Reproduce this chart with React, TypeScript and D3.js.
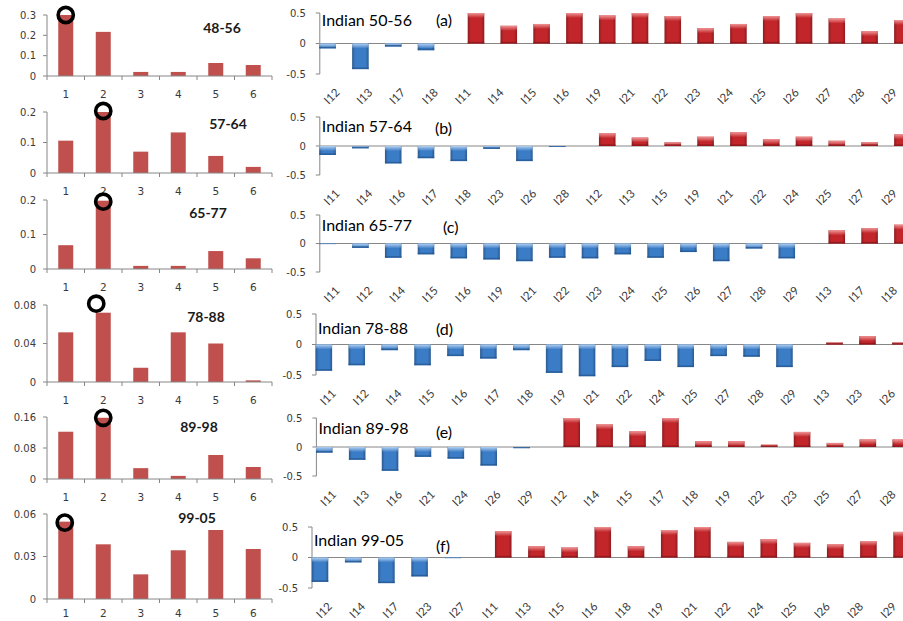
import React from "react";
import * as d3 from "d3";

const W = 903;
const H = 621;

// ---- Left column: class frequency per period ----
const classLabels = ["1", "2", "3", "4", "5", "6"];
const periodNames = ["48-56", "57-64", "65-77", "78-88", "89-98", "99-05"];

const freq4856 = [0.3, 0.217, 0.02, 0.02, 0.064, 0.054];
const freq5764 = [0.106, 0.2, 0.07, 0.133, 0.056, 0.02];
const freq6577 = [0.069, 0.198, 0.009, 0.009, 0.052, 0.031];
const freq7888 = [0.0516, 0.072, 0.0148, 0.0516, 0.04, 0.0017];
const freq8998 = [0.122, 0.158, 0.028, 0.008, 0.062, 0.031];
const freq9905 = [0.0546, 0.0386, 0.0174, 0.0344, 0.0487, 0.0353];
const freqSeries = [freq4856, freq5764, freq6577, freq7888, freq8998, freq9905];

const ticks4856 = [0, 0.1, 0.2, 0.3];
const ticks5764 = [0, 0.1, 0.2];
const ticks6577 = [0, 0.1, 0.2];
const ticks7888 = [0, 0.04, 0.08];
const ticks8998 = [0, 0.08, 0.16];
const ticks9905 = [0, 0.03, 0.06];
const freqTicks = [ticks4856, ticks5764, ticks6577, ticks7888, ticks8998, ticks9905];

// class marked with a ring in each period
const peakClass = [0, 1, 1, 1, 1, 0];

// ---- Right column: index anomalies per period ----
const anomalyTitles = ["Indian 50-56", "Indian 57-64", "Indian 65-77", "Indian 78-88", "Indian 89-98", "Indian 99-05"];
const panelTags = ["(a)", "(b)", "(c)", "(d)", "(e)", "(f)"];

const catsA = ["I12", "I13", "I17", "I18", "I11", "I14", "I15", "I16", "I19", "I21", "I22", "I23", "I24", "I25", "I26", "I27", "I28", "I29"];
const valsA = [-0.08, -0.42, -0.05, -0.11, 0.5, 0.29, 0.32, 0.5, 0.46, 0.5, 0.45, 0.25, 0.32, 0.45, 0.5, 0.41, 0.2, 0.385];

const catsB = ["I11", "I14", "I16", "I17", "I18", "I23", "I26", "I28", "I12", "I13", "I15", "I19", "I21", "I22", "I24", "I25", "I27", "I29"];
const valsB = [-0.155, -0.04, -0.3, -0.21, -0.26, -0.05, -0.26, -0.015, 0.22, 0.145, 0.064, 0.16, 0.236, 0.12, 0.16, 0.09, 0.064, 0.2];

const catsC = ["I11", "I12", "I14", "I15", "I16", "I19", "I21", "I22", "I23", "I24", "I25", "I26", "I27", "I28", "I29", "I13", "I17", "I18"];
const valsC = [-0.01, -0.077, -0.25, -0.19, -0.26, -0.28, -0.31, -0.25, -0.26, -0.19, -0.25, -0.15, -0.31, -0.088, -0.26, 0.23, 0.27, 0.33];

const catsD = ["I11", "I12", "I14", "I15", "I16", "I17", "I18", "I19", "I21", "I22", "I24", "I25", "I27", "I28", "I29", "I13", "I23", "I26"];
const valsD = [-0.43, -0.34, -0.093, -0.34, -0.19, -0.23, -0.093, -0.465, -0.52, -0.37, -0.27, -0.37, -0.19, -0.2, -0.37, 0.033, 0.136, 0.033];

const catsE = ["I11", "I13", "I16", "I21", "I24", "I26", "I29", "I12", "I14", "I15", "I17", "I18", "I19", "I22", "I23", "I25", "I27", "I28"];
const valsE = [-0.097, -0.22, -0.41, -0.17, -0.2, -0.32, -0.02, 0.5, 0.39, 0.27, 0.5, 0.1, 0.1, 0.04, 0.26, 0.07, 0.13, 0.13];

const catsF = ["I12", "I14", "I17", "I23", "I27", "I11", "I13", "I15", "I16", "I18", "I19", "I21", "I22", "I24", "I25", "I26", "I28", "I29"];
const valsF = [-0.4, -0.08, -0.42, -0.31, -0.01, 0.43, 0.185, 0.164, 0.5, 0.185, 0.45, 0.5, 0.256, 0.3, 0.24, 0.22, 0.27, 0.42];

const anomalyCats = [catsA, catsB, catsC, catsD, catsE, catsF];
const anomalyVals = [valsA, valsB, valsC, valsD, valsE, valsF];
const anomalyTicks = [-0.5, 0, 0.5];

// ---- Layout ----
const freqFrames = [
  { y0: 76, yTop: 15, nameX: 222, nameY: 28, ringDx: 0, ringDy: 0 },
  { y0: 173, yTop: 112, nameX: 228, nameY: 124, ringDx: 0, ringDy: -1 },
  { y0: 269, yTop: 200, nameX: 208, nameY: 213, ringDx: 0, ringDy: 1 },
  { y0: 382, yTop: 305, nameX: 206, nameY: 317, ringDx: -7, ringDy: -9 },
  { y0: 479, yTop: 417, nameX: 199, nameY: 427, ringDx: 0, ringDy: 0 },
  { y0: 599, yTop: 514, nameX: 197, nameY: 518, ringDx: -1, ringDy: 1 },
];
const FREQ_X0 = 47;
const FREQ_X1 = 272;

const anomalyFrames = [
  { x0: 319.8, step: 32.8, yTop: 13, yBot: 74, titleY: 20, tagX: 436, tagY: 20 },
  { x0: 319.8, step: 32.8, yTop: 117, yBot: 175, titleY: 126, tagX: 435, tagY: 128 },
  { x0: 319.8, step: 32.8, yTop: 215, yBot: 272, titleY: 225, tagX: 443, tagY: 227 },
  { x0: 316, step: 32.9, yTop: 314, yBot: 375, titleY: 328, tagX: 436, tagY: 329 },
  { x0: 316.4, step: 32.9, yTop: 418, yBot: 476, titleY: 428, tagX: 436, tagY: 432 },
  { x0: 312, step: 33.2, yTop: 527, yBot: 588, titleY: 540, tagX: 436, tagY: 546 },
];

const SANS = "Lato, 'Open Sans', sans-serif";
const TICK_FONT = "'DejaVu Sans', Verdana, sans-serif";
const AXIS_GRAY = "#868686";
const TEXT_GRAY = "#3a3a3a";
const FREQ_RED = "#C0504D";
const RED = { base: "#c2262b", edge: "#8a1519", glow: "#f39a9a" };
const BLUE = { base: "#3b7cc6", edge: "#24568f", glow: "#b9d6f5" };

function FreqPanel({ i }: { i: number }) {
  const f = freqFrames[i];
  const values = freqSeries[i];
  const ticks = freqTicks[i];
  const x = d3.scaleBand<string>().domain(classLabels).range([FREQ_X0, FREQ_X1]).paddingInner(0.6).paddingOuter(0.3);
  const y = d3.scaleLinear().domain([0, ticks[ticks.length - 1]]).range([f.y0, f.yTop]);
  const step = x.step();
  const bounds = d3.range(classLabels.length + 1).map((k) => FREQ_X0 + k * step);
  const pk = peakClass[i];
  const ringX = (x(classLabels[pk]) as number) + x.bandwidth() / 2 + f.ringDx;
  const ringY = y(values[pk]) + f.ringDy;
  const labelY = Math.min(y(0) + 18, H - 8);
  return (
    <g>
      {values.map((v, k) => (
        <rect
          key={k}
          x={x(classLabels[k])}
          y={y(v)}
          width={x.bandwidth()}
          height={y(0) - y(v)}
          fill={FREQ_RED}
        />
      ))}
      {/* axes */}
      <line x1={FREQ_X0} x2={FREQ_X0} y1={y(ticks[ticks.length - 1])} y2={y(0)} stroke={AXIS_GRAY} strokeWidth={1} />
      <line x1={FREQ_X0} x2={FREQ_X1} y1={y(0)} y2={y(0)} stroke={AXIS_GRAY} strokeWidth={1} />
      {ticks.map((t) => (
        <g key={t}>
          <line x1={FREQ_X0 - 4} x2={FREQ_X0} y1={y(t)} y2={y(t)} stroke={AXIS_GRAY} />
          <text x={FREQ_X0 - 11} y={y(t)} dy="0.36em" textAnchor="end" fontFamily={TICK_FONT} fontSize={10} fill={TEXT_GRAY}>
            {String(t)}
          </text>
        </g>
      ))}
      {bounds.map((bx, k) => (
        <line key={k} x1={bx} x2={bx} y1={y(0)} y2={y(0) + 4} stroke={AXIS_GRAY} />
      ))}
      {classLabels.map((c) => (
        <text
          key={c}
          x={(x(c) as number) + x.bandwidth() / 2}
          y={labelY}
          dy="0.36em"
          textAnchor="middle"
          fontFamily={TICK_FONT}
          fontSize={10.5}
          fill={TEXT_GRAY}
        >
          {c}
        </text>
      ))}
      <text x={f.nameX} y={f.nameY} dy="0.36em" textAnchor="middle" fontFamily={SANS} fontWeight="bold" fontSize={14} fill="#1a1a1a">
        {periodNames[i]}
      </text>
      <circle cx={ringX} cy={ringY} r={7.6} fill="none" stroke="#000" strokeWidth={3.6} />
    </g>
  );
}

function Bar3D({ x, top, w, h, pal, id }: { x: number; top: number; w: number; h: number; pal: typeof RED; id: string }) {
  const glowH = Math.min(5, h);
  const edgeH = Math.min(1.6, h);
  return (
    <g>
      <rect x={x} y={top} width={w} height={h} fill={pal.base} />
      <rect x={x} y={top} width={w} height={h} fill="url(#sideShade)" />
      <rect x={x} y={top} width={w} height={glowH} fill={`url(#glow-${id})`} />
      <rect x={x} y={top + h - edgeH} width={w} height={edgeH} fill={pal.edge} opacity={0.75} />
    </g>
  );
}

function AnomalyPanel({ i }: { i: number }) {
  const f = anomalyFrames[i];
  const cats = anomalyCats[i];
  const vals = anomalyVals[i];
  const x = d3.scaleBand<string>().domain(cats).range([f.x0, f.x0 + cats.length * f.step]);
  const y = d3.scaleLinear().domain([-0.5, 0.5]).range([f.yBot, f.yTop]);
  const bw = 16.5;
  const off = 8.6;
  const y0 = y(0);
  return (
    <g>
      <line x1={f.x0} x2={W} y1={y0} y2={y0} stroke={AXIS_GRAY} strokeWidth={1} />
      <line x1={f.x0} x2={f.x0} y1={y(0.5)} y2={y(-0.5)} stroke={AXIS_GRAY} strokeWidth={1} />
      {anomalyTicks.map((t) => (
        <g key={t}>
          <line x1={f.x0 - 4} x2={f.x0} y1={y(t)} y2={y(t)} stroke={AXIS_GRAY} />
          <text x={f.x0 - 14} y={y(t)} dy="0.36em" textAnchor="end" fontFamily={TICK_FONT} fontSize={10} fill={TEXT_GRAY}>
            {String(t)}
          </text>
        </g>
      ))}
      {cats.map((c, k) => {
        const v = vals[k];
        const neg = v < 0;
        const cx = (x(c) as number) + x.bandwidth() / 2 + (neg ? -off : off);
        const top = Math.min(y(v), y0);
        const h = Math.abs(y(v) - y0);
        return <Bar3D key={c} x={cx - bw / 2} top={top} w={bw} h={h} pal={neg ? BLUE : RED} id={neg ? "blue" : "red"} />;
      })}
      {cats.map((c) => {
        const cx = (x(c) as number) + x.bandwidth() / 2;
        return (
          <text
            key={c}
            transform={`translate(${cx - 2},${f.yBot + 13}) rotate(-45)`}
            textAnchor="end"
            dominantBaseline="hanging"
            fontFamily={SANS}
            fontSize={11.5}
            fill={TEXT_GRAY}
          >
            {c}
          </text>
        );
      })}
      <text x={f.x0 + 2} y={f.titleY} dy="0.36em" fontFamily={SANS} fontSize={16} fill="#000">
        {anomalyTitles[i]}
      </text>
      <text x={f.tagX} y={f.tagY} dy="0.36em" fontFamily={SANS} fontSize={16} fill="#000">
        {panelTags[i]}
      </text>
    </g>
  );
}

export default function App() {
  return (
    <svg
      width={W}
      height={H}
      viewBox={`0 0 ${W} ${H}`}
      style={{ position: "absolute", left: 0, top: 0, background: "#fff" }}
    >
      <defs>
        <linearGradient id="sideShade" x1="0" x2="1" y1="0" y2="0">
          <stop offset="0" stopColor="#000" stopOpacity={0.28} />
          <stop offset="0.18" stopColor="#000" stopOpacity={0} />
          <stop offset="0.82" stopColor="#000" stopOpacity={0} />
          <stop offset="1" stopColor="#000" stopOpacity={0.28} />
        </linearGradient>
        <linearGradient id="glow-red" x1="0" x2="0" y1="0" y2="1">
          <stop offset="0" stopColor={RED.glow} stopOpacity={0.95} />
          <stop offset="1" stopColor={RED.glow} stopOpacity={0} />
        </linearGradient>
        <linearGradient id="glow-blue" x1="0" x2="0" y1="0" y2="1">
          <stop offset="0" stopColor={BLUE.glow} stopOpacity={0.95} />
          <stop offset="1" stopColor={BLUE.glow} stopOpacity={0} />
        </linearGradient>
      </defs>
      <rect width={W} height={H} fill="#fff" />
      {freqFrames.map((_, i) => (
        <FreqPanel key={`f${i}`} i={i} />
      ))}
      {anomalyFrames.map((_, i) => (
        <AnomalyPanel key={`a${i}`} i={i} />
      ))}
    </svg>
  );
}
